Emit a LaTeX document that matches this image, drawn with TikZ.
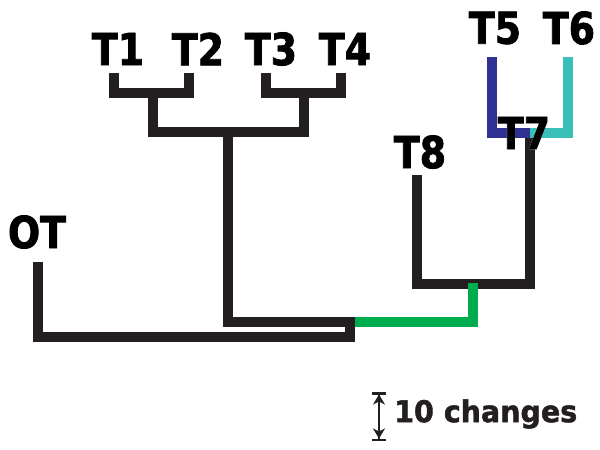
\documentclass[tikz,border=0pt]{standalone}
\usepackage{fontspec}
\setmainfont{DejaVu Sans}[FakeStretch=0.86, BoldFeatures={FakeBold=1.8}]
\newfontfamily\scalefont{DejaVu Sans}[FakeStretch=0.95, BoldFeatures={FakeBold=1.5}]
\usepackage[outline]{contour}
\contourlength{2.5pt}
\usetikzlibrary{arrows.meta}
\definecolor{ink}{HTML}{231F20}
\definecolor{bblue}{HTML}{2E3192}
\definecolor{bteal}{HTML}{3ABFB8}
\definecolor{bgreen}{HTML}{00AD4E}
\tikzset{
  br/.style={line width=10pt, line join=miter, line cap=butt, draw=ink},
  lab/.style={font=\bfseries\fontsize{44}{44}\selectfont, text=black, inner sep=0pt},
  tipstyle/.style={line width=2.5pt, draw=ink,
    {Bar[width=14pt,line width=2.5pt]Stealth[length=10pt,width=12pt,inset=3pt]}-{Stealth[length=10pt,width=12pt,inset=3pt]Bar[width=14pt,line width=2.5pt]}},
}
\begin{document}
\begin{tikzpicture}[x=1pt,y=-1pt]
\useasboundingbox (0,0) rectangle (600,450);
% coordinates
\coordinate (t1) at (114,73);
\coordinate (t2) at (189,73);
\coordinate (n12) at (153,93);
\coordinate (t3) at (266,73);
\coordinate (t4) at (341,73);
\coordinate (n34) at (304,93);
\coordinate (n1234) at (228,132);
\coordinate (ot) at (38,262);
\coordinate (root) at (350,337);
\coordinate (ingrp) at (228,322);
\coordinate (n78) at (473,284);
\coordinate (t8) at (417,175);
\coordinate (t7) at (530,133);
\coordinate (t5) at (492,57);
\coordinate (t6) at (568,57);
% branches
\draw[br] (t1) -- (t1 |- n12) -- (t2 |- n12) -- (t2);
\draw[br] (t3) -- (t3 |- n34) -- (t4 |- n34) -- (t4);
\draw[br] (n12) -- (n12 |- n1234) -- (n34 |- n1234) -- (n34);
\draw[br] (ot) -- (ot |- root) -- (root) -- (root |- ingrp) -- (ingrp) -- (n1234);
\draw[br] (t8) -- (t8 |- n78) -- (t7 |- n78) -- (t7);
\draw[br, draw=bgreen] ([xshift=5pt]root |- ingrp) -- (n78 |- ingrp) -- ([yshift=1pt]n78);
\draw[br, draw=bblue] (t5) -- (t5 |- t7) -- (t7);
\draw[br, draw=bteal] (t7) -- (t6 |- t7) -- (t6);
% labels
\node[lab] (l1) at (118,49) {T1};
\node[lab] (l2) at (198,49) {T2};
\node[lab] (l3) at (271,49) {T3};
\node[lab] (l4) at (345,49) {T4};
\node[lab] (l5) at (495,28) {T5};
\node[lab] (l6) at (569,28) {T6};
\node[lab] (l7) at (524,133) {\contour{white}{T7}};
\node[lab] (l8) at (420,152) {T8};
\node[lab] (lot) at (37,232) {OT};
% scale bar
\coordinate (sb1) at (379,392);
\coordinate (sb2) at (379,441);
\draw[tipstyle] (sb1) -- (sb2);
\node[font=\scalefont\bfseries\fontsize{30}{30}\selectfont, text=ink, anchor=west, inner sep=0pt] (sc) at (394,414) {10 changes};
\end{tikzpicture}
\end{document}
